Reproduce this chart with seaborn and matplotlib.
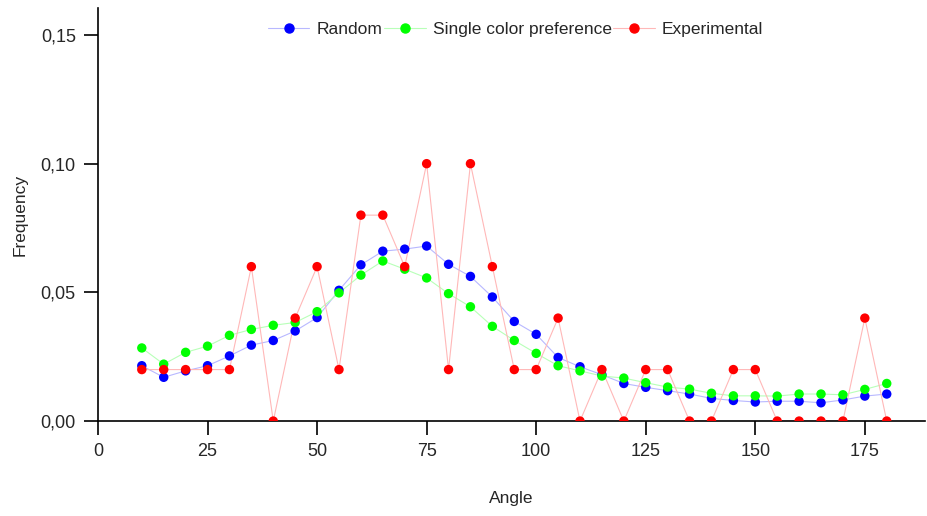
import numpy as np
import pandas as pd
import matplotlib
matplotlib.use("Agg")
import matplotlib.pyplot as plt
from matplotlib.lines import Line2D
from matplotlib.ticker import FuncFormatter
import seaborn as sns

# Angle bins (degrees)
angles = [10, 15, 20, 25, 30, 35, 40, 45, 50, 55, 60, 65, 70, 75, 80, 85, 90,
          95, 100, 105, 110, 115, 120, 125, 130, 135, 140, 145, 150, 155, 160,
          165, 170, 175, 180]

random_freq = [0.0215, 0.0170, 0.0195, 0.0215, 0.0253, 0.0295, 0.0313, 0.0350,
               0.0402, 0.0508, 0.0607, 0.0660, 0.0668, 0.0680, 0.0609, 0.0562,
               0.0482, 0.0387, 0.0337, 0.0247, 0.0211, 0.0180, 0.0146, 0.0131,
               0.0118, 0.0105, 0.0088, 0.0080, 0.0074, 0.0077, 0.0077, 0.0071,
               0.0082, 0.0097, 0.0105]

single_color_freq = [0.0284, 0.0221, 0.0267, 0.0291, 0.0333, 0.0356, 0.0372,
                     0.0383, 0.0425, 0.0498, 0.0567, 0.0622, 0.0590, 0.0556,
                     0.0495, 0.0444, 0.0368, 0.0313, 0.0263, 0.0215, 0.0195,
                     0.0175, 0.0167, 0.0149, 0.0132, 0.0124, 0.0108, 0.0098,
                     0.0098, 0.0097, 0.0105, 0.0105, 0.0102, 0.0123, 0.0146]

experimental_freq = [0.02, 0.02, 0.02, 0.02, 0.02, 0.06, 0.00, 0.04, 0.06, 0.02,
                     0.08, 0.08, 0.06, 0.10, 0.02, 0.10, 0.06, 0.02, 0.02, 0.04,
                     0.00, 0.02, 0.00, 0.02, 0.02, 0.00, 0.00, 0.02, 0.02, 0.00,
                     0.00, 0.00, 0.00, 0.04, 0.00]

series_names = ["Random", "Single color preference", "Experimental"]
marker_colors = ["#0000ff", "#00ff00", "#ff0000"]
line_colors = ["#b8b8ff", "#b8ffb8", "#ffb8b8"]

df = pd.DataFrame({
    "Angle": angles * 3,
    "Frequency": random_freq + single_color_freq + experimental_freq,
    "Series": np.repeat(series_names, len(angles)),
})

sns.set_style("ticks")
plt.rcParams["font.family"] = ["Liberation Sans", "DejaVu Sans"]

fig = plt.figure(figsize=(9.27, 5.16), dpi=100)
ax = fig.add_axes([0.1057, 0.184, 0.892, 0.8006])

for name, mc, lc in zip(series_names, marker_colors, line_colors):
    sub = df[df["Series"] == name]
    sns.lineplot(data=sub, x="Angle", y="Frequency", color=lc, lw=0.8,
                 ax=ax, zorder=2)
    sns.scatterplot(data=sub, x="Angle", y="Frequency", color=mc, s=46,
                    edgecolor="none", ax=ax, zorder=3)

ax.set_xlim(0, 188.7)
ax.set_ylim(0, 0.1605)
ax.set_xticks([0, 25, 50, 75, 100, 125, 150, 175])
ax.set_yticks([0.0, 0.05, 0.10, 0.15])
ax.yaxis.set_major_formatter(FuncFormatter(lambda v, p: f"{v:.2f}".replace(".", ",")))

for side in ["top", "right"]:
    ax.spines[side].set_visible(False)
for side in ["left", "bottom"]:
    ax.spines[side].set_linewidth(1.2)
    ax.spines[side].set_color("black")
ax.tick_params(axis="both", direction="out", length=10, width=1.2,
               color="black", labelsize=13, pad=6)

ax.set_xlabel("Angle", fontsize=12.5, labelpad=22)
ax.set_ylabel("Frequency", fontsize=12.5, labelpad=9)

handles = [Line2D([0], [0], color=lc, lw=0.8, marker="o", markersize=6.5,
                  markerfacecolor=mc, markeredgecolor=mc)
           for mc, lc in zip(marker_colors, line_colors)]
ax.legend(handles, series_names, loc="upper center", bbox_to_anchor=(0.505, 1.005),
          ncol=3, frameon=False, fontsize=12.5, handlelength=2.4,
          handletextpad=0.4, columnspacing=0.1)

fig.savefig("out.png", dpi=100)
